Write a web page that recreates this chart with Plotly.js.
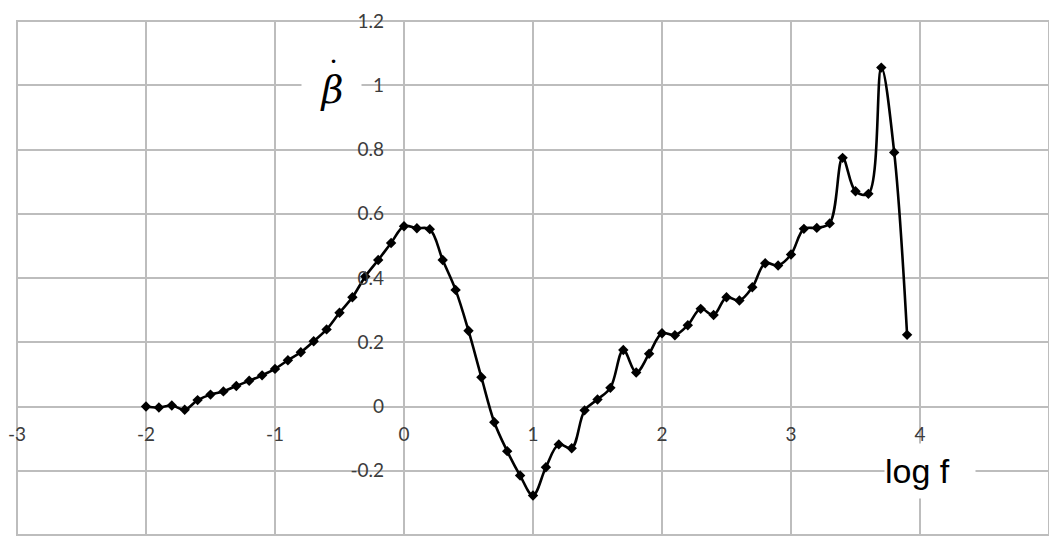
<!DOCTYPE html>
<html>
<head>
<meta charset="utf-8">
<script src="https://cdn.plot.ly/plotly-3.0.1.min.js"></script>
<style>html,body{margin:0;padding:0;background:#fff;}#chart{width:1049px;height:539px;}</style>
</head>
<body>
<div id="chart"></div>
<script>
const logF = [-2.0,-1.9,-1.8,-1.7,-1.6,-1.5,-1.4,-1.3,-1.2,-1.1,-1.0,-0.9,-0.8,-0.7,-0.6,-0.5,-0.4,-0.3,-0.2,-0.1,
  0.0,0.1,0.2,0.3,0.4,0.5,0.6,0.7,0.8,0.9,1.0,1.1,1.2,1.3,1.4,1.5,1.6,1.7,1.8,1.9,
  2.0,2.1,2.2,2.3,2.4,2.5,2.6,2.7,2.8,2.9,3.0,3.1,3.2,3.3,3.4,3.5,3.6,3.7,3.8,3.9];
const betaDot = [0.0,-0.003,0.003,-0.01,0.02,0.037,0.047,0.064,0.08,0.097,0.117,0.144,0.169,0.203,0.24,0.292,0.34,0.405,0.456,0.509,
  0.561,0.555,0.552,0.456,0.363,0.236,0.091,-0.049,-0.139,-0.215,-0.277,-0.189,-0.118,-0.13,-0.012,0.022,0.058,0.176,0.106,0.164,
  0.228,0.222,0.253,0.304,0.285,0.34,0.33,0.371,0.446,0.439,0.473,0.553,0.556,0.57,0.774,0.67,0.662,1.055,0.791,0.223];
const xTickVals = [-3,-2,-1,0,1,2,3,4,5];
const xTickText = ["-3","-2","-1","0","1","2","3","4","5"];
const yTickVals = [-0.4,-0.2,0,0.2,0.4,0.6,0.8,1.0,1.2];
const yTickText = ["-0.4","-0.2","0","0.2","0.4","0.6","0.8","1","1.2"];
const yTitle = "\u03B2";
const yTitleDot = "\u2022";
const xTitle = "log f";

const gridColor = "#bdbdbd";
const tickFont = {family: "Lato, 'Open Sans', sans-serif", size: 19, color: "#3c3c3c"};

const trace = {
  x: logF, y: betaDot, type: "scatter", mode: "lines+markers",
  line: {color: "#000", width: 2.6, shape: "spline", smoothing: 1},
  marker: {symbol: "diamond", size: 8, color: "#000"},
  hoverinfo: "x+y", cliponaxis: false
};

const layout = {
  width: 1049, height: 539,
  margin: {l: 17, r: 0, t: 21, b: 4},
  paper_bgcolor: "#fff", plot_bgcolor: "#fff",
  showlegend: false,
  xaxis: {
    range: [-3, 5], tickvals: xTickVals, ticktext: xTickText,
    showgrid: true, gridcolor: gridColor, gridwidth: 2,
    zeroline: true, zerolinecolor: gridColor, zerolinewidth: 2,
    showline: false, ticks: "", ticklabelstandoff: 14,
    anchor: "free", position: 0.25, tickfont: tickFont, fixedrange: true
  },
  yaxis: {
    range: [-0.4, 1.2], tickvals: yTickVals, ticktext: yTickText,
    showgrid: true, gridcolor: gridColor, gridwidth: 2,
    zeroline: true, zerolinecolor: gridColor, zerolinewidth: 2,
    showline: false, ticks: "", ticklabelstandoff: 20,
    anchor: "free", position: 0.375, tickfont: tickFont, fixedrange: true
  },
  shapes: [{type: "rect", xref: "paper", yref: "paper", x0: 0, x1: 1, y0: 0, y1: 1,
            line: {color: gridColor, width: 2}, layer: "below"}],
  annotations: [
    {x: -0.56, y: 1.0, xref: "x", yref: "y", text: yTitle, showarrow: false,
     font: {family: "'DejaVu Serif', serif", size: 38, color: "#000", style: "italic"},
     bgcolor: "#fff", width: 59, borderpad: 0, yshift: -5},
    {x: -0.545, y: 1.0, xref: "x", yref: "y", text: yTitleDot, showarrow: false,
     font: {family: "'DejaVu Sans', sans-serif", size: 12, color: "#000"},
     yshift: 23},
    {x: 4.08, y: -0.2, xref: "x", yref: "y", text: xTitle, showarrow: false,
     font: {family: "'Liberation Sans', Arial, sans-serif", size: 34, color: "#000"},
     bgcolor: "#fff", width: 90, height: 54, align: "left", borderpad: 0}
  ]
};

Plotly.newPlot("chart", [trace], layout, {displayModeBar: false, staticPlot: true});
</script>
</body>
</html>
